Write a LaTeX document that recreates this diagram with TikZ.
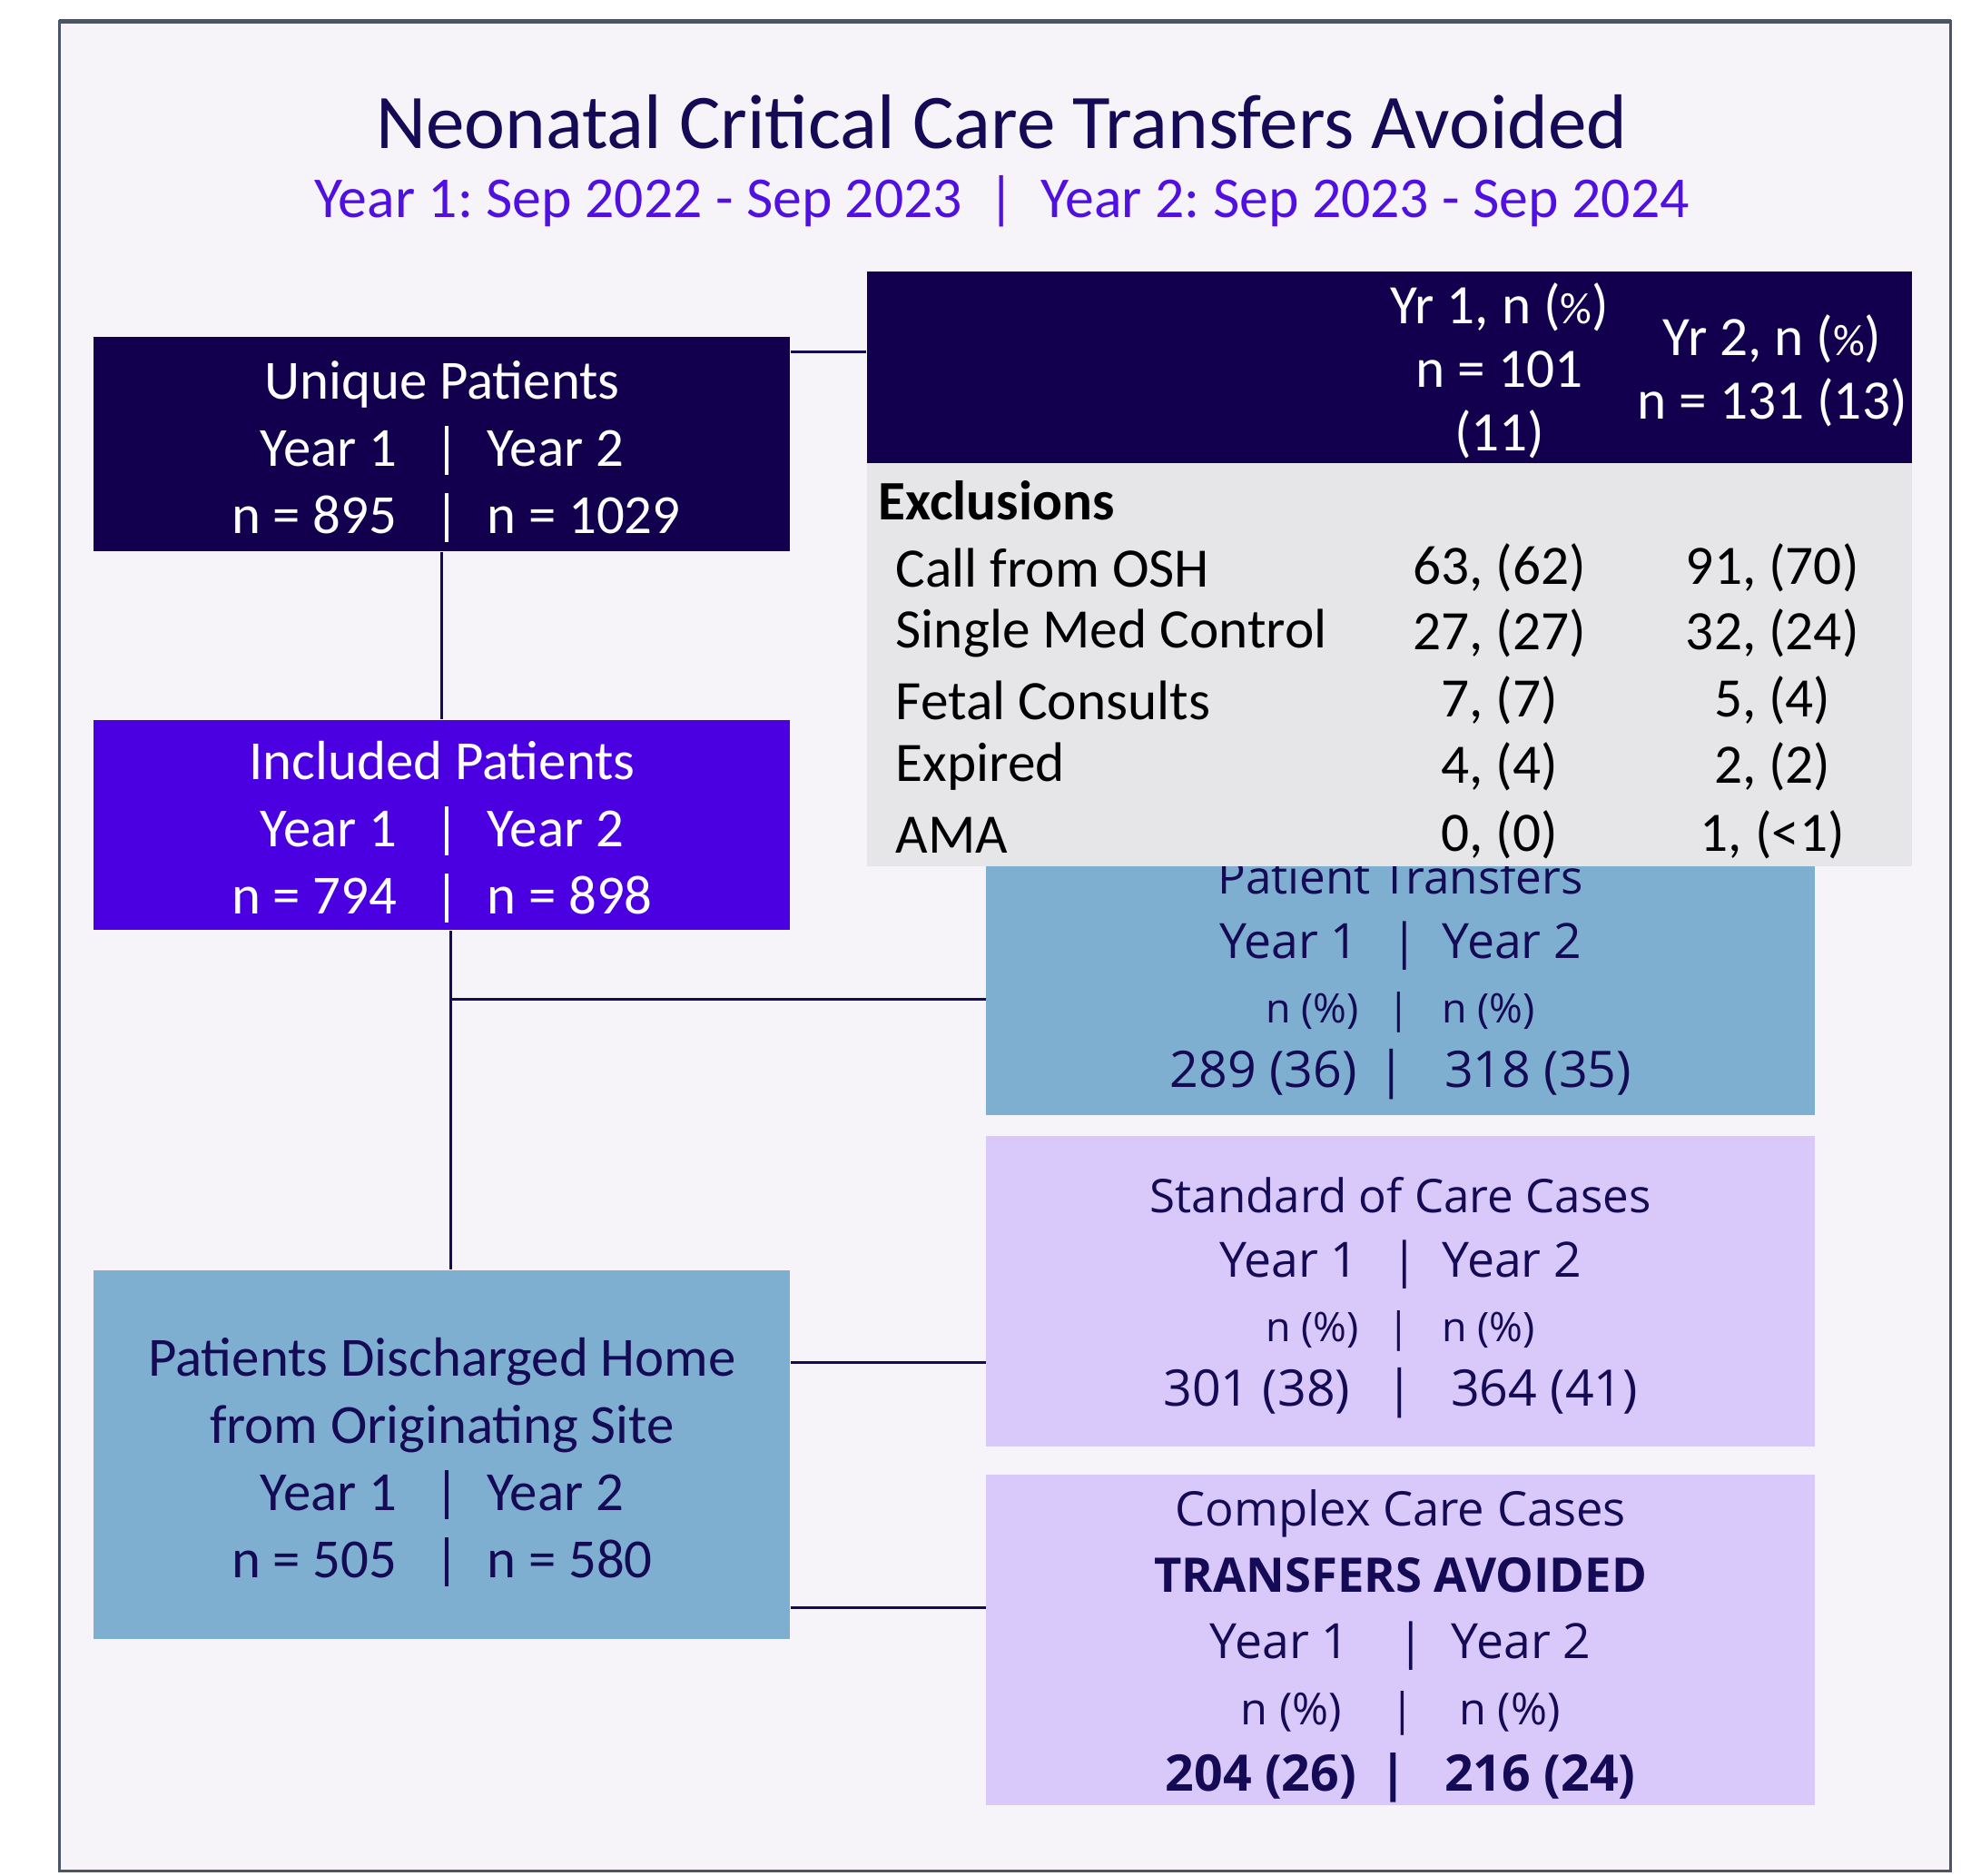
\documentclass[tikz,border=0pt]{standalone}
\usepackage{fontspec}
\setmainfont{Carlito}
\newfontfamily\boxfont{Open Sans}
\usetikzlibrary{positioning}
\frenchspacing

\definecolor{navy}{HTML}{12004F}
\definecolor{violet}{HTML}{4B00E1}
\definecolor{steel}{HTML}{7EAFD0}
\definecolor{lilac}{HTML}{D9C8FA}
\definecolor{tablegray}{HTML}{E6E6E9}
\definecolor{framebg}{HTML}{F6F4F9}
\definecolor{framegray}{HTML}{4A5568}
\definecolor{ink}{HTML}{140A55}
\definecolor{subpurple}{HTML}{5010E0}

% Year 1 | Year 2 pairs, bar kept in the middle
\newcommand{\yrsgap}[4]{\makebox[5em][r]{#3}\hspace{#1}|\hspace{#2}\makebox[5em][l]{#4}}
\newcommand{\yrs}[2]{\yrsgap{0.67em}{0.5em}{#1}{#2}}
% extra room above the first line of a box
\newcommand{\topgap}[1]{\rule{0pt}{#1}}

\begin{document}
\begin{tikzpicture}[
        x=0.1mm, y=-0.1mm,
        leftbox/.style={rectangle, inner sep=0pt, align=center, anchor=north west, minimum width=55.4mm,
            font=\fontsize{12.5}{15.2}\selectfont},
        rightbox/.style={rectangle, inner sep=0pt, align=center, anchor=north west, minimum width=65.9mm,
            text=ink, fill=lilac, font=\boxfont\fontsize{10.5}{14.6}\selectfont},
        cell/.style={inner sep=0pt, font=\fontsize{12.6}{14.4}\selectfont},
        link/.style={draw=ink, line width=0.6pt},
    ]
    \useasboundingbox (0,0) rectangle (1568,1492);
    % Frame
    \draw[framegray, fill=framebg, line width=0.6pt] (47,17) rectangle (1552,1488);
    \draw[framegray, line width=1.2pt] (47,17) -- (1552,17);

    % Heading
    \node[text=ink, font=\fontsize{17.5}{20}\selectfont] (title) at (797,97) {Neonatal Critical Care Transfers Avoided};
    \node[text=subpurple, font=\fontsize{13.1}{15}\selectfont] (subtitle) at (797,160)
        {Year 1: Sep 2022 - Sep 2023\hspace{0.45em}|\hspace{0.45em}Year 2: Sep 2023 - Sep 2024};

    % Left column
    \node[leftbox, fill=navy, text=white, minimum height=17.1mm] (unique) at (74,267)
        {\topgap{12pt}Unique Patients\\ \yrs{Year 1}{Year 2}\\ \yrs{n = 895}{n = 1029}};
    \node[leftbox, fill=violet, text=white, minimum height=16.7mm] (incl) at (74,572)
        {\topgap{12pt}Included Patients\\ \yrs{Year 1}{Year 2}\\ \yrs{n = 794}{n = 898}};
    \node[leftbox, fill=steel, text=ink, minimum height=29.3mm] (disch) at (74,1010)
        {\topgap{12pt}Patients Discharged Home\\ from Originating Site\\ \yrs{Year 1}{Year 2}\\ \yrs{n = 505}{n = 580}};

    % Right column
    \node[rightbox, fill=steel, minimum height=22.6mm] (trans) at (784,660)
        {\topgap{11pt}Patient Transfers\\ {\fontsize{11}{14.6}\selectfont\yrs{Year 1}{Year 2}}\\
         {\fontsize{9.2}{14.6}\selectfont\yrsgap{0.7em}{0.8em}{n (\%)}{n (\%)}}\\
         {\fontsize{11.4}{14.6}\selectfont\yrsgap{0.42em}{0.77em}{289 (36)}{318 (35)}}};
    \node[rightbox, minimum height=24.7mm] (stdc) at (784,903)
        {\topgap{11pt}Standard of Care Cases\\ {\fontsize{11}{14.6}\selectfont\yrs{Year 1}{Year 2}}\\
         {\fontsize{9.2}{14.6}\selectfont\yrsgap{0.7em}{0.8em}{n (\%)}{n (\%)}}\\
         {\fontsize{11.4}{14.6}\selectfont\yrsgap{0.7em}{0.75em}{301 (38)}{364 (41)}}};
    \node[rightbox, minimum height=26.3mm, font=\boxfont\fontsize{10.8}{15}\selectfont] (cplx) at (784,1172)
        {\topgap{11pt}Complex Care Cases\\ \textbf{TRANSFERS AVOIDED}\\
         {\fontsize{11}{15}\selectfont\yrsgap{1em}{0.55em}{Year 1}{Year 2}}\\
         {\fontsize{10}{15}\selectfont\yrsgap{1.1em}{1em}{n (\%)}{n (\%)}}\\
         {\fontsize{11.4}{15}\selectfont\bfseries\yrsgap{0.45em}{0.75em}{204 (26)}{216 (24)}}};

    % Exclusions table
    \node[rectangle, fill=navy, anchor=north west, inner sep=0pt, minimum width=83.1mm, minimum height=15.3mm] (tabhead) at (689,215) {};
    \node[rectangle, fill=tablegray, anchor=north west, inner sep=0pt, minimum width=83.1mm, minimum height=32mm] (tabbody) at (689,368) {};
    \node[cell, text=white, align=center] (head1) at (1193,295) {Yr 1, n ({\fontsize{10}{12}\selectfont\%})\\ n = 101\\ (11)};
    \node[cell, text=white, align=center] (head2) at (1410,295) {Yr 2, n ({\fontsize{10}{12}\selectfont\%})\\ n = 131 (13)};
    \node[cell, anchor=west, font=\fontsize{12.6}{14.4}\selectfont\bfseries] (excl) at (698,398) {Exclusions};
    \node[cell, anchor=west] (osh) at (712,452) {Call from OSH};
    \node[cell] at (1193,452) {63, (62)};
    \node[cell] at (1410,452) {91, (70)};
    \node[cell, anchor=west] (smc) at (712,504) {Single Med Control};
    \node[cell] at (1193,504) {27, (27)};
    \node[cell] at (1410,504) {32, (24)};
    \node[cell, anchor=west] (fetal) at (712,557) {Fetal Consults};
    \node[cell] at (1193,557) {7, (7)};
    \node[cell] at (1410,557) {5, (4)};
    \node[cell, anchor=west] (expired) at (712,610) {Expired};
    \node[cell] at (1193,610) {4, (4)};
    \node[cell] at (1410,610) {2, (2)};
    \node[cell, anchor=west] (ama) at (712,664) {AMA};
    \node[cell] at (1193,664) {0, (0)};
    \node[cell] at (1410,664) {1, (<1)};

    % Lines
    \coordinate (tie) at ([yshift=-1.3mm]unique.north east);
    \draw[link] (tie) -- (tie -| tabhead.west);
    \draw[link] (unique) -- (incl);
    \coordinate (spine) at ([xshift=0.7mm]incl.south);
    \draw[link] (spine) -- (spine |- disch.north);
    \draw[link] (spine |- 0,795) -- (trans.west |- 0,795);
    \draw[link] (disch.east |- 0,1084) -- (stdc.west |- 0,1084);
    \draw[link] (disch.east |- 0,1279) -- (cplx.west |- 0,1279);
\end{tikzpicture}
\end{document}
